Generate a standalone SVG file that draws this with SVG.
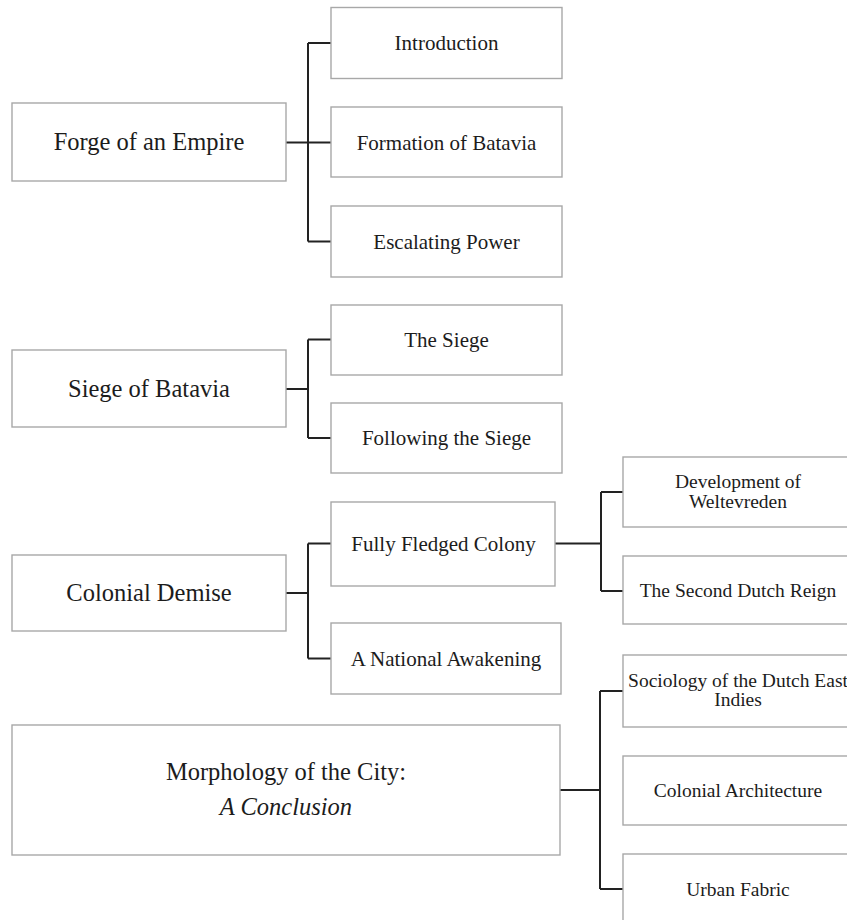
<svg xmlns="http://www.w3.org/2000/svg" width="847" height="920" viewBox="0 0 847 920">
<style>
.box{fill:#fff;stroke:#a8a8a8;stroke-width:1.4}
text{font-family:"Liberation Serif","Times New Roman",serif;fill:#1c1c1c;text-anchor:middle}
.l{font-size:24.5px}
.m{font-size:21px}
.s{font-size:19.5px}
.it{font-style:italic}
.c{fill:none;stroke:#222;stroke-width:2}
</style>
<rect width="847" height="920" fill="#fff"/>
<g id="connectors">
<path class="c" d="M286 142.5H308M308 43V241.5M308 43H331M308 142.5H331M308 241.5H331"/>
<path class="c" d="M286 389H308M308 339.5V438M308 339.5H331M308 438H331"/>
<path class="c" d="M286 593H308M308 543.5V658.5M308 543.5H331M308 658.5H331"/>
<path class="c" d="M555 543.5H601M601 492V591M601 492H623M601 591H623"/>
<path class="c" d="M560 790H600M600 691V889M600 691H623M600 889H623"/>
</g>
<g id="forge"><rect class="box" x="12" y="103" width="274" height="78"/><text class="l" x="149" y="150">Forge of an Empire</text></g>
<g id="introduction"><rect class="box" x="331" y="7.5" width="231" height="71"/><text class="m" x="446.5" y="50">Introduction</text></g>
<g id="formation"><rect class="box" x="331" y="107" width="231" height="70"/><text class="m" x="446.5" y="149.5">Formation of Batavia</text></g>
<g id="escalating"><rect class="box" x="331" y="206" width="231" height="71"/><text class="m" x="446.5" y="248.5">Escalating Power</text></g>
<g id="siege-of-batavia"><rect class="box" x="12" y="350" width="274" height="77"/><text class="l" x="149" y="397">Siege of Batavia</text></g>
<g id="the-siege"><rect class="box" x="331" y="305" width="231" height="70"/><text class="m" x="446.5" y="347">The Siege</text></g>
<g id="following"><rect class="box" x="331" y="403" width="231" height="70"/><text class="m" x="446.5" y="445">Following the Siege</text></g>
<g id="colonial-demise"><rect class="box" x="12" y="555" width="274" height="76"/><text class="l" x="149" y="601">Colonial Demise</text></g>
<g id="fully-fledged"><rect class="box" x="331" y="502" width="224" height="84"/><text class="m" x="443.5" y="551">Fully Fledged Colony</text></g>
<g id="national-awakening"><rect class="box" x="331" y="623" width="230" height="71"/><text class="m" x="446" y="665.5">A National Awakening</text></g>
<g id="weltevreden"><rect class="box" x="623" y="457" width="230" height="70"/><text class="s" x="738" y="488">Development of</text><text class="s" x="738" y="507.5">Weltevreden</text></g>
<g id="second-dutch"><rect class="box" x="623" y="556" width="230" height="68"/><text class="s" x="738" y="597">The Second Dutch Reign</text></g>
<g id="morphology"><rect class="box" x="12" y="725" width="548" height="130"/><text class="l" x="286" y="780">Morphology of the City:</text><text class="l it" x="286" y="815">A Conclusion</text></g>
<g id="sociology"><rect class="box" x="623" y="655" width="230" height="72"/><text class="s" x="738" y="687">Sociology of the Dutch East</text><text class="s" x="738" y="706">Indies</text></g>
<g id="architecture"><rect class="box" x="623" y="756" width="230" height="69"/><text class="s" x="738" y="797">Colonial Architecture</text></g>
<g id="urban-fabric"><rect class="box" x="623" y="854" width="230" height="72"/><text class="s" x="738" y="896">Urban Fabric</text></g>
</svg>
